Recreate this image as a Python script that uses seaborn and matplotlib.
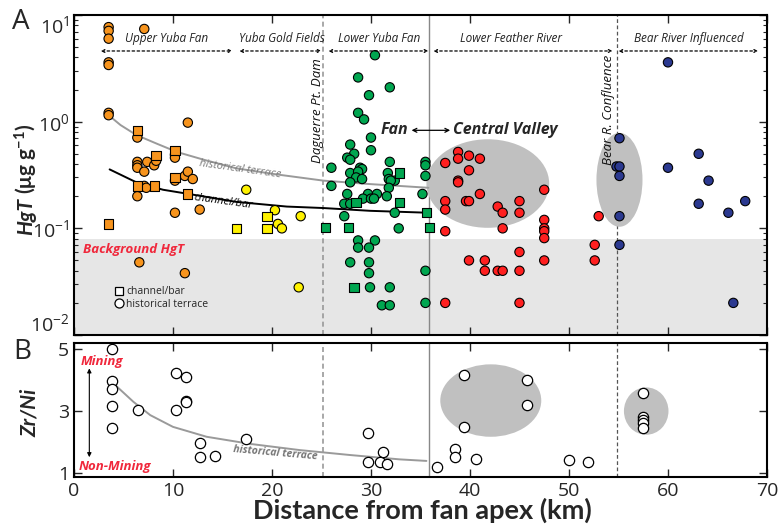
import numpy as np
import pandas as pd
import matplotlib
matplotlib.use('Agg')
import matplotlib.pyplot as plt
import seaborn as sns
from matplotlib.patches import Ellipse
from matplotlib.lines import Line2D
from matplotlib.ticker import NullFormatter

sns.set_style('ticks')
plt.rcParams['font.family'] = ['Open Sans', 'DejaVu Sans']
plt.rcParams['mathtext.default'] = 'regular'

# ---- panel A: HgT (ug/g) vs distance from fan apex (km) ----
# Upper Yuba Fan
uyf_km = [3.5, 3.5, 3.5, 3.5, 3.5, 3.5, 3.5, 7.1, 6.4, 6.4, 6.4, 6.4, 7.1, 7.4, 8.1, 8.3, 7.1, 7.3,
          6.4, 10.2, 10.2, 10.2, 10.2, 11.5, 11.2, 11.5, 12.0, 12.7, 6.6, 11.2,
          3.5, 6.4, 8.3, 6.4, 8.1, 10.2, 10.2, 11.5]
uyf_hg = [7.7, 7.1, 6.0, 3.6, 3.4, 1.21, 1.15, 7.4, 0.71, 0.42, 0.39, 0.37, 0.34, 0.42, 0.39, 0.43, 0.25, 0.24,
          0.20, 0.49, 0.46, 0.28, 0.14, 0.98, 0.31, 0.34, 0.29, 0.15, 0.048, 0.038,
          0.11, 0.83, 0.48, 0.25, 0.25, 0.54, 0.30, 0.21]
uyf_kind = ['terrace'] * 30 + ['bar'] * 8

# Yuba Gold Fields
ygf_km = [17.4, 20.3, 22.9, 20.6, 21.0, 22.7, 19.5, 16.4, 19.5]
ygf_hg = [0.23, 0.148, 0.13, 0.11, 0.10, 0.028, 0.13, 0.10, 0.10]
ygf_kind = ['terrace'] * 6 + ['bar'] * 3

# Lower Yuba Fan
lyf_km = [30.4, 28.7, 31.9, 29.8, 28.7, 29.3, 30.0, 27.9, 30.0, 28.3, 27.6, 27.9, 31.9, 35.5, 35.5, 26.0,
          28.9, 29.1, 27.9, 28.7, 31.7, 35.5, 28.5, 29.1, 31.8, 32.4, 32.0, 27.9, 26.0, 31.8, 27.6, 29.7,
          30.6, 29.2, 30.0, 30.3, 31.6, 35.2, 27.3, 27.9, 27.3, 32.4, 32.8, 28.7, 30.4, 28.7, 29.8, 27.9,
          29.8, 29.8, 35.5, 29.9, 31.9, 31.1, 31.9, 35.5,
          32.9, 28.5, 32.9, 35.6, 25.4, 27.7, 35.9, 28.3]
lyf_hg = [4.2, 2.6, 2.1, 1.77, 1.21, 1.05, 0.71, 0.61, 0.54, 0.50, 0.46, 0.44, 0.42, 0.42, 0.39, 0.37,
          0.37, 0.36, 0.33, 0.34, 0.33, 0.31, 0.30, 0.29, 0.29, 0.28, 0.28, 0.27, 0.25, 0.24, 0.21, 0.21,
          0.21, 0.19, 0.19, 0.19, 0.20, 0.21, 0.17, 0.17, 0.13, 0.14, 0.10, 0.077, 0.077, 0.066, 0.066, 0.048,
          0.048, 0.038, 0.040, 0.028, 0.028, 0.019, 0.019, 0.020,
          0.33, 0.175, 0.175, 0.14, 0.102, 0.102, 0.102, 0.028]
lyf_kind = ['terrace'] * 56 + ['bar'] * 8

# Lower Feather River
lfr_km = [37.5, 38.8, 38.8, 39.9, 41.0, 39.9, 38.8, 38.8, 41.0, 37.5, 39.6, 39.9, 42.8, 43.3, 45.0, 45.0,
          37.5, 47.5, 43.3, 47.5, 47.5, 47.5, 47.5, 53.0, 37.5, 52.6, 45.0, 39.9, 41.5, 47.5, 52.6, 41.5,
          42.8, 43.3, 45.0, 37.5, 45.0]
lfr_hg = [0.41, 0.52, 0.45, 0.48, 0.45, 0.35, 0.28, 0.27, 0.21, 0.18, 0.18, 0.18, 0.16, 0.14, 0.18, 0.14,
          0.15, 0.23, 0.10, 0.12, 0.10, 0.094, 0.081, 0.13, 0.094, 0.070, 0.060, 0.050, 0.050, 0.050, 0.050, 0.040,
          0.040, 0.040, 0.040, 0.020, 0.020]
lfr_kind = ['terrace'] * 37

# Bear River influenced
brv_km = [60.0, 55.1, 54.8, 55.1, 55.1, 60.0, 63.1, 64.1, 63.1, 66.1, 67.8, 55.1, 55.1, 66.6]
brv_hg = [3.6, 0.70, 0.38, 0.38, 0.31, 0.37, 0.50, 0.28, 0.17, 0.14, 0.18, 0.13, 0.070, 0.020]
brv_kind = ['terrace'] * 14

# trend curves
terr_km = [3.5, 4.7, 6.3, 8.4, 10.4, 13.1, 16.4, 20.5, 25.2, 29.9, 35.8]
terr_hg = [1.15, 0.93, 0.75, 0.62, 0.52, 0.44, 0.365, 0.32, 0.28, 0.26, 0.24]
bar_km = [3.6, 6.3, 9.0, 11.6, 16.4, 21.5, 25.2, 29.9, 35.8]
bar_hg = [0.357, 0.27, 0.23, 0.21, 0.177, 0.16, 0.155, 0.146, 0.14]

# ---- panel B: Zr/Ni ----
zr_km = [3.8, 3.8, 3.8, 3.8, 3.8, 6.5, 10.3, 11.3, 11.3, 11.3, 10.3, 12.7, 12.7, 14.2, 17.4, 29.7, 31.2,
         29.7, 30.9, 31.6, 36.7, 38.5, 38.5, 40.6, 39.4, 39.4, 45.8, 45.8, 50.0, 51.9, 57.5, 57.5, 57.5,
         57.5, 57.5]
zr_ratio = [5.0, 3.98, 3.71, 3.16, 2.46, 3.03, 4.24, 4.11, 3.32, 3.28, 3.05, 1.98, 1.53, 1.55, 2.09, 2.28, 1.69,
            1.35, 1.35, 1.29, 1.20, 1.77, 1.51, 1.44, 4.18, 2.49, 4.0, 3.19, 1.42, 1.35, 3.6, 2.82, 2.71,
            2.6, 2.44]
zr_terr_km = [4.0, 6.0, 7.7, 10.0, 13.4, 17.8, 22.8, 27.9, 32.9, 35.6]
zr_terr_val = [3.89, 3.30, 2.87, 2.49, 2.17, 1.94, 1.74, 1.58, 1.44, 1.39]

zones = ['Upper Yuba Fan', 'Yuba Gold Fields', 'Lower Yuba Fan', 'Lower Feather River', 'Bear River Influenced']
zone_colors = ['#f7941d', '#fff200', '#00a650', '#ff2020', '#2b3990']

hg = pd.concat([
    pd.DataFrame({'km': k, 'hgt': h, 'kind': t, 'zone': z})
    for k, h, t, z in zip([uyf_km, ygf_km, lyf_km, lfr_km, brv_km],
                          [uyf_hg, ygf_hg, lyf_hg, lfr_hg, brv_hg],
                          [uyf_kind, ygf_kind, lyf_kind, lfr_kind, brv_kind], zones)
], ignore_index=True)
zr = pd.DataFrame({'km': zr_km, 'ratio': zr_ratio})

fig = plt.figure(figsize=(7.82, 5.25), dpi=100)
axA = fig.add_axes([0.0946, 0.3619, 0.8862, 0.6095])
axB = fig.add_axes([0.0946, 0.0914, 0.8862, 0.2553])

# --- panel A ---
axA.set_yscale('log')
axA.set_xlim(0, 70)
axA.set_ylim(0.01, 10)
axA.axhspan(0.01, 0.08, color='#e6e6e6', lw=0, zorder=0)
axA.axvline(25.2, color='#999999', ls=(0, (3, 2)), lw=1.2, zorder=1)
axA.axvline(35.9, color='#888888', lw=1.0, zorder=1)
axA.axvline(54.8, color='#555555', ls=(0, (3, 2)), lw=0.9, zorder=1)

tr = axA.transLimits + axA.transAxes
axA.add_patch(Ellipse((41.8, np.log10(0.263)), 12.4, 0.83, transform=tr, color='#c0c0c0', lw=0, zorder=1))
axA.add_patch(Ellipse((55.1, np.log10(0.285)), 4.65, 0.88, transform=tr, color='#c0c0c0', lw=0, zorder=1))

axA.plot(terr_km, terr_hg, color='#9a9a9a', lw=1.4, zorder=2)
axA.plot(bar_km, bar_hg, color='black', lw=1.4, zorder=2)

sns.scatterplot(data=hg, x='km', y='hgt', hue='zone', style='kind',
                palette=dict(zip(zones, zone_colors)), markers={'terrace': 'o', 'bar': 's'},
                s=45, edgecolor='black', linewidth=0.8, legend=False, ax=axA, zorder=3)

# region headers
region_spans = [(2.7, 16.0), (16.7, 25.0), (25.7, 35.8), (36.3, 54.4), (55.0, 69.1)]
region_mid = [9.4, 21.0, 30.8, 44.1, 62.1]
for (x0, x1), xm, name in zip(region_spans, region_mid, zones):
    axA.annotate('', xy=(x1, 4.6), xytext=(x0, 4.6),
                 arrowprops=dict(arrowstyle='<->', ls=(0, (2, 2)), lw=0.9, color='black',
                                 mutation_scale=5, shrinkA=0, shrinkB=0))
    axA.text(xm, 6.0, name, ha='center', va='center', fontsize=8.5, style='italic', color='#222222')

axA.text(24.6, 1.28, 'Daguerre Pt. Dam', rotation=90, ha='center', va='center',
         fontsize=9.5, style='italic', color='#111111')
axA.text(54.0, 1.28, 'Bear R. Confluence', rotation=90, ha='center', va='center',
         fontsize=9.5, style='italic', color='#111111')
axA.text(33.8, 0.83, 'Fan', ha='right', va='center', fontsize=11.5, style='italic', weight='bold')
axA.annotate('', xy=(38.0, 0.83), xytext=(34.1, 0.83),
             arrowprops=dict(arrowstyle='<->', lw=0.9, color='black', mutation_scale=7,
                             shrinkA=0, shrinkB=0))
axA.text(38.3, 0.83, 'Central Valley', ha='left', va='center', fontsize=11.5, style='italic', weight='bold')
axA.text(16.8, 0.36, 'historical terrace', ha='center', va='center', rotation=-8,
         fontsize=8, style='italic', color='#7a7a7a')
axA.text(15.1, 0.178, 'channel/bar', ha='center', va='center', rotation=-8,
         fontsize=8, style='italic', color='black')
axA.text(0.9, 0.064, 'Background HgT', ha='left', va='center', fontsize=9.5,
         style='italic', weight='bold', color='#f0283c')

handles = [Line2D([], [], marker='s', ls='', mfc='white', mec='black', ms=6, mew=0.9),
           Line2D([], [], marker='o', ls='', mfc='white', mec='black', ms=6.5, mew=0.9)]
axA.legend(handles, ['channel/bar', 'historical terrace'], loc='lower left',
           bbox_to_anchor=(0.05, 0.065), frameon=False, fontsize=7.5,
           handletextpad=0.1, labelspacing=0.15, borderaxespad=0, handlelength=1.2)

axA.set_xticks(range(0, 71, 10))
axA.set_yticks([0.01, 0.1, 1, 10],
               labels=['$10^{-2}$', '$10^{-1}$', '$10^{0}$', '$10^{1}$'])
axA.yaxis.set_minor_formatter(NullFormatter())
ylabs = axA.get_yticklabels()
ylabs[0].set_va('bottom')
ylabs[-1].set_va('top')
axA.tick_params(which='both', direction='in', top=True, right=True, labelbottom=False, labelsize=14)
axA.tick_params(which='major', length=6, width=1)
axA.tick_params(which='minor', length=3, width=0.8)
axA.set_xlabel('')
axA.set_ylabel('')

# --- panel B ---
axB.set_xlim(0, 70)
axB.set_ylim(0.87, 5.2)
axB.axvline(25.2, color='#999999', ls=(0, (3, 2)), lw=1.2, zorder=1)
axB.axvline(35.9, color='#888888', lw=1.0, zorder=1)
axB.axvline(54.8, color='#555555', ls=(0, (3, 2)), lw=0.9, zorder=1)
axB.add_patch(Ellipse((42.1, 3.34), 10.2, 2.34, color='#c0c0c0', lw=0, zorder=1))
axB.add_patch(Ellipse((57.8, 3.0), 4.5, 1.53, color='#c0c0c0', lw=0, zorder=1))
axB.plot(zr_terr_km, zr_terr_val, color='#9a9a9a', lw=1.4, zorder=2)
sns.scatterplot(data=zr, x='km', y='ratio', color='white', edgecolor='black', linewidth=0.9,
                s=55, legend=False, ax=axB, zorder=3)
axB.annotate('', xy=(1.55, 4.38), xytext=(1.55, 1.51),
             arrowprops=dict(arrowstyle='<|-|>', lw=0.8, color='black', mutation_scale=6,
                             shrinkA=0, shrinkB=0))
axB.text(2.8, 4.61, 'Mining', ha='center', va='center', fontsize=9.5,
         style='italic', weight='bold', color='#f0283c')
axB.text(4.1, 1.2, 'Non-Mining', ha='center', va='center', fontsize=9.5,
         style='italic', weight='bold', color='#f0283c')
axB.text(20.3, 1.64, 'historical terrace', ha='center', va='center', rotation=-5,
         fontsize=7.5, style='italic', weight='bold', color='#777777')

axB.set_xticks(range(0, 71, 10))
axB.set_yticks([1, 3, 5])
axB.tick_params(which='both', direction='in', top=True, right=True, labelsize=14, length=6, width=1)
axB.set_xlabel('')
axB.set_ylabel('')

for ax in (axA, axB):
    for sp in ax.spines.values():
        sp.set_linewidth(1.5)
        sp.set_color('black')

lab_font = ['Lato', 'DejaVu Sans']
fig.text(0.026, 0.958, 'A', fontsize=20, ha='center', va='center')
fig.text(0.028, 0.330, 'B', fontsize=20, ha='center', va='center')

# y label of panel A: italic "HgT" followed by upright units
hgt_txt = fig.text(0.034, 0.552, 'HgT', rotation=90, ha='center', va='bottom', fontsize=15,
                   weight='bold', style='italic', family=lab_font)
fig.canvas.draw()
bb = hgt_txt.get_window_extent().transformed(fig.transFigure.inverted())
fig.text(0.034, bb.y1 + 0.008, '(μg g$^{-1}$)', rotation=90, ha='center', va='bottom',
         fontsize=15, weight='bold', family=lab_font)

fig.text(0.038, 0.213, 'Zr/Ni', rotation=90, ha='center', va='center', fontsize=15,
         weight='bold', style='italic', family=lab_font)
fig.text(0.540, 0.011, 'Distance from fan apex (km)', ha='center', va='baseline',
         fontsize=19.5, weight='bold', family=lab_font)

fig.savefig('out.png', dpi=100)
